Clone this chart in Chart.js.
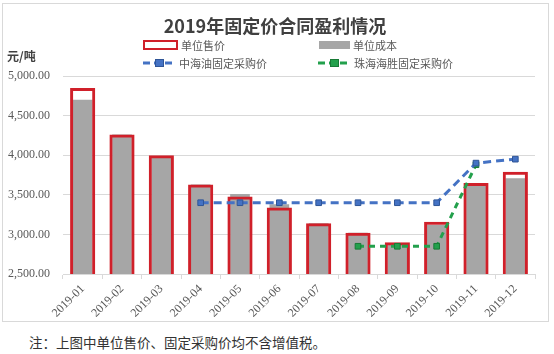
<!DOCTYPE html>
<html lang="zh">
  <head>
    <meta charset="UTF-8" />
    <title>2019年固定价合同盈利情况</title>
    <style>
      body { margin: 0; background: #fff; font-family: "Noto Sans CJK SC", sans-serif; }
      .page { position: relative; width: 554px; height: 354px; }
      .frame { position: absolute; left: 2px; top: 3px; width: 545px; height: 317px; border: 1px solid #d9d9d9; }
      #chart { position: absolute; left: 0; top: 0; }
      .title { position: absolute; left: 0; width: 550px; top: 13px; text-align: center; font-size: 18px; font-weight: 700; color: #404040; line-height: 24px; }
      .unit { position: absolute; left: 7px; top: 48px; font-size: 12px; font-weight: 700; color: #404040; line-height: 16px; }
      .legend-item { position: absolute; display: flex; align-items: center; font-size: 11px; color: #595959; line-height: 14px; }
      .legend-item svg { margin-right: 3px; }
      .note { position: absolute; left: 29px; top: 334px; font-size: 13.5px; color: #333; line-height: 16px; }
    </style>
  </head>
  <body>
    <div class="page">
      <div class="frame"></div>
      <canvas id="chart" width="554" height="322"></canvas>
      <div class="title">2019年固定价合同盈利情况</div>
      <div class="unit">元/吨</div>
      <div class="legend-item" style="left: 143px; top: 38px">
        <svg width="35" height="10"><rect x="1" y="1" width="33" height="8" fill="#fff" stroke="#d0202a" stroke-width="2"/></svg>单位售价
      </div>
      <div class="legend-item" style="left: 319px; top: 38px">
        <svg width="31" height="10"><rect x="0" y="1" width="31" height="8" fill="#a6a6a6"/></svg>单位成本
      </div>
      <div class="legend-item" style="left: 143px; top: 56px">
        <svg width="33" height="10"><line x1="0" y1="5" x2="33" y2="5" stroke="#4472c4" stroke-width="3" stroke-dasharray="7 4"/><rect x="12.5" y="1.5" width="8" height="7" fill="#4472c4" stroke="#2f5597"/></svg>中海油固定采购价
      </div>
      <div class="legend-item" style="left: 318px; top: 56px">
        <svg width="33" height="10"><line x1="0" y1="5" x2="33" y2="5" stroke="#23a04c" stroke-width="3" stroke-dasharray="7 4"/><rect x="12.5" y="1.5" width="8" height="7" fill="#23a04c" stroke="#187a36"/></svg>珠海海胜固定采购价
      </div>
      <div class="note">注：上图中单位售价、固定采购价均不含增值税。</div>
    </div>
    <script src="https://cdn.jsdelivr.net/npm/chart.js"></script>
    <script>
      const months = ["2019-01", "2019-02", "2019-03", "2019-04", "2019-05", "2019-06",
        "2019-07", "2019-08", "2019-09", "2019-10", "2019-11", "2019-12"];
      const salePrice = [4850, 4260, 4000, 3630, 3480, 3340, 3140, 3020, 2900, 3160, 3650, 3790];
      const unitCost = [4700, 4260, 3990, 3630, 3510, 3380, 3140, 3020, 2880, 3120, 3620, 3710];
      const cnoocPrice = [null, null, null, 3400, 3400, 3400, 3400, 3400, 3400, 3400, 3900, 3950];
      const zhuhaiPrice = [null, null, null, null, null, null, null, 2850, 2850, 2850, 3880, null];

      const tickFont = { family: "Liberation Serif", size: 12 };

      new Chart(document.getElementById("chart"), {
        type: "bar",
        data: {
          labels: months,
          datasets: [
            {
              type: "line",
              label: "中海油固定采购价",
              data: cnoocPrice,
              borderColor: "#4472c4",
              borderWidth: 3,
              borderDash: [8, 5],
              pointStyle: "rect",
              pointRadius: 4,
              pointBackgroundColor: "#4472c4",
              pointBorderColor: "#2f5597",
              pointBorderWidth: 1,
              tension: 0,
              order: 0,
            },
            {
              type: "line",
              label: "珠海海胜固定采购价",
              data: zhuhaiPrice,
              borderColor: "#23a04c",
              borderWidth: 3,
              borderDash: [6, 5],
              pointStyle: "rect",
              pointRadius: 4,
              pointBackgroundColor: "#23a04c",
              pointBorderColor: "#187a36",
              pointBorderWidth: 1,
              tension: 0,
              order: 0,
            },
            {
              label: "单位售价",
              data: salePrice,
              backgroundColor: "rgba(255,255,255,0)",
              borderColor: "#d0202a",
              borderWidth: 3,
              barPercentage: 0.64,
              categoryPercentage: 1,
              grouped: false,
              order: 1,
            },
            {
              label: "单位成本",
              data: unitCost,
              backgroundColor: "#a6a6a6",
              borderWidth: 0,
              barPercentage: 0.5,
              categoryPercentage: 1,
              grouped: false,
              order: 2,
            },
          ],
        },
        options: {
          responsive: false,
          animation: false,
          layout: { padding: { top: 76, right: 19, left: 0, bottom: 0 } },
          plugins: { legend: { display: false }, tooltip: { enabled: false } },
          scales: {
            x: {
              grid: { display: true, drawOnChartArea: false, offset: true, tickLength: 5, color: "#d9d9d9" },
              border: { color: "#d9d9d9" },
              ticks: { minRotation: 45, maxRotation: 45, color: "#595959", font: tickFont, padding: 3 },
              afterFit: (s) => { s.height = 48; },
            },
            y: {
              min: 2500,
              max: 5000,
              ticks: {
                stepSize: 500,
                color: "#595959",
                font: tickFont,
                padding: 13,
                callback: (v) => v.toLocaleString("en-US", { minimumFractionDigits: 2, maximumFractionDigits: 2 }),
              },
              grid: { color: "#d9d9d9", drawTicks: false },
              border: { display: false },
              afterFit: (s) => { s.width = 63; },
            },
          },
        },
      });
    </script>
  </body>
</html>
